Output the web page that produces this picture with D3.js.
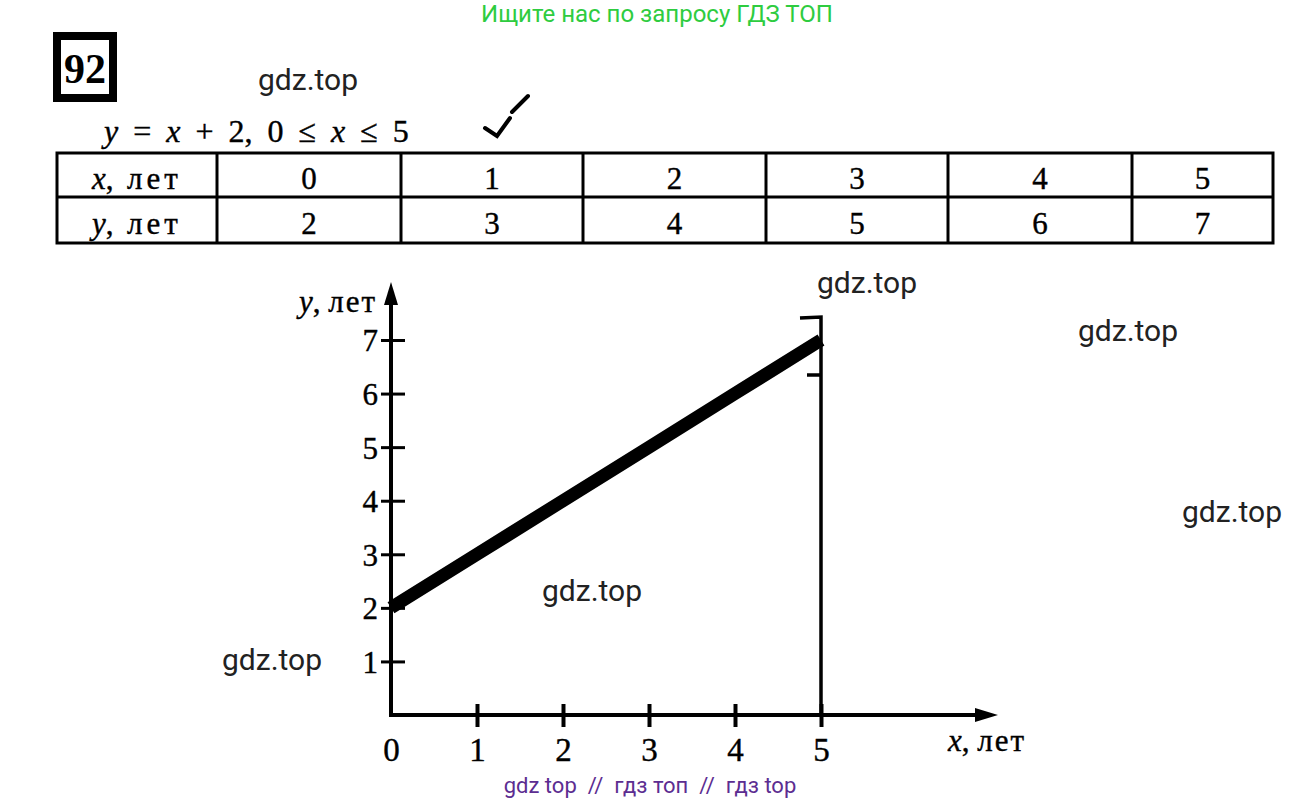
<!DOCTYPE html>
<html>
<head>
<meta charset="utf-8">
<script src="https://cdn.jsdelivr.net/npm/d3@7"></script>
<style>
  body { margin: 0; background: #fff; }
  svg { display: block; }
  .ink { stroke: #000; stroke-width: 0.4px; fill: #000; }
</style>
</head>
<body>
<div class="chart"></div>
<script>
// values of the function y = x + 2 on 0..5
let xValues = [0, 1, 2, 3, 4, 5];
let yValues = [2, 3, 4, 5, 6, 7];
let yTicks = [1, 2, 3, 4, 5, 6, 7];
let rowLabels = ['x', 'y'];
let watermarks = [[258, 90], [817, 293], [1078, 341], [1182, 522], [542, 601], [222, 670]];

let width = 1304, height = 803;
let serif = '"Liberation Serif", "DejaVu Serif", serif';

let svg = d3.select('.chart')
    .append('svg')
    .attr('width', width)
    .attr('height', height);

// green banner on top and purple one at the bottom
svg.append('text')
    .attr('x', 657).attr('y', 22)
    .style('text-anchor', 'middle')
    .style('font-family', 'Roboto, sans-serif')
    .style('font-size', '24px')
    .style('fill', '#2ecc40')
    .text('Ищите нас по запросу ГДЗ ТОП');

svg.append('text')
    .attr('x', 650).attr('y', 793)
    .style('text-anchor', 'middle')
    .style('font-family', 'Roboto, sans-serif')
    .style('font-size', '22px')
    .style('white-space', 'pre')
    .style('fill', '#5c2d91')
    .text('gdz top  //  гдз топ  //  гдз top');

// task number box
svg.append('rect')
    .attr('x', 57).attr('y', 36)
    .attr('width', 56).attr('height', 62)
    .style('fill', '#fff')
    .style('stroke', '#000')
    .style('stroke-width', 8);
svg.append('text')
    .attr('x', 85).attr('y', 83)
    .style('text-anchor', 'middle')
    .style('font-family', serif)
    .style('font-weight', 'bold')
    .style('font-size', '42px')
    .text('92');

// equation
let eq = svg.append('text')
    .attr('class', 'ink')
    .attr('x', 104).attr('y', 142)
    .style('font-family', serif)
    .style('white-space', 'pre')
    .style('word-spacing', '7px')
    .style('font-size', '32px');
eq.append('tspan').style('font-style', 'italic').text('y');
eq.append('tspan').text(' = ');
eq.append('tspan').style('font-style', 'italic').text('x');
eq.append('tspan').text(' + 2, 0 ≤ ');
eq.append('tspan').style('font-style', 'italic').text('x');
eq.append('tspan').text(' ≤ 5');

// check mark scribble
svg.append('path')
    .attr('d', 'M485,128 L497,136 L510,118 M512,112 L528,96')
    .style('fill', 'none')
    .style('stroke', '#000')
    .style('stroke-width', 4)
    .style('stroke-linecap', 'round');

// table of values
let colEdges = [57, 217, 401, 583, 766, 948, 1132, 1273];
let rowEdges = [153, 197, 243];
let table = svg.append('g');
table.append('rect')
    .attr('x', colEdges[0]).attr('y', rowEdges[0])
    .attr('width', colEdges[7] - colEdges[0])
    .attr('height', rowEdges[2] - rowEdges[0])
    .style('fill', 'none').style('stroke', '#000').style('stroke-width', 3);
table.append('line')
    .attr('x1', colEdges[0]).attr('x2', colEdges[7])
    .attr('y1', rowEdges[1]).attr('y2', rowEdges[1])
    .style('stroke', '#000').style('stroke-width', 3);
table.selectAll('.col')
    .data(colEdges.slice(1, 7))
    .enter().append('line')
    .attr('x1', d => d).attr('x2', d => d)
    .attr('y1', rowEdges[0]).attr('y2', rowEdges[2])
    .style('stroke', '#000').style('stroke-width', 3);

[xValues, yValues].forEach((vals, r) => {
    let yy = (rowEdges[r] + rowEdges[r + 1]) / 2 + 14;
    let lab = table.append('text')
        .attr('class', 'ink')
        .attr('x', 92).attr('y', yy)
        .style('font-family', serif)
        .style('font-size', '31px');
    lab.append('tspan').style('font-style', 'italic').text(rowLabels[r]);
    lab.append('tspan').text(',');
    lab.append('tspan').attr('x', 127).style('letter-spacing', '4px').text('лет');
    table.selectAll('.v' + r)
        .data(vals)
        .enter().append('text')
        .attr('class', 'ink')
        .attr('x', (d, i) => (colEdges[i + 1] + colEdges[i + 2]) / 2)
        .attr('y', yy)
        .style('text-anchor', 'middle')
        .style('font-family', serif)
        .style('font-size', '31px')
        .text(d => d);
});

// graph
let xScale = d3.scaleLinear().domain([0, 5]).range([391, 821]);
let yScale = d3.scaleLinear().domain([0, 7]).range([715, 340]);
let g = svg.append('g');

// y axis with ticks crossing the line
let yAxis = d3.axisLeft(yScale).tickValues(yTicks).tickFormat(d3.format('d')).tickSize(0).tickPadding(13);
let yg = g.append('g')
    .attr('transform', `translate(${xScale(0)},0)`)
    .call(yAxis);
yg.select('.domain').remove();
yg.selectAll('.tick line')
    .attr('x1', -10).attr('x2', 14)
    .style('stroke', '#000').style('stroke-width', 3);
yg.selectAll('.tick text')
    .attr('class', 'ink')
    .style('font-family', serif)
    .style('font-size', '31px')
    .attr('dy', '0.35em');

// x axis
let xAxis = d3.axisBottom(xScale).tickValues(xValues).tickFormat(d3.format('d')).tickSize(0).tickPadding(23);
let xg = g.append('g')
    .attr('transform', `translate(0,${yScale(0)})`)
    .call(xAxis);
xg.select('.domain').remove();
xg.selectAll('.tick line')
    .attr('y1', -11).attr('y2', 12)
    .style('stroke', '#000').style('stroke-width', 4)
    .filter(d => d === 0).remove();
xg.selectAll('.tick text')
    .attr('class', 'ink')
    .style('font-family', serif)
    .style('font-size', '33px');

// axis lines with arrows
g.append('line')
    .attr('x1', xScale(0)).attr('x2', xScale(0))
    .attr('y1', yScale(0) + 2).attr('y2', 300)
    .style('stroke', '#000').style('stroke-width', 4);
g.append('path')
    .attr('d', `M${xScale(0)},282 L${xScale(0) - 7},305 L${xScale(0) + 7},305 Z`)
    .style('fill', '#000');
g.append('line')
    .attr('x1', xScale(0) - 2).attr('x2', 980)
    .attr('y1', yScale(0)).attr('y2', yScale(0))
    .style('stroke', '#000').style('stroke-width', 4);
g.append('path')
    .attr('d', `M998,${yScale(0)} L975,${yScale(0) - 7} L975,${yScale(0) + 7} Z`)
    .style('fill', '#000');

// vertical line at x = 5 with bracket
g.append('path')
    .attr('d', `M${xScale(5) - 21},318 L${xScale(5)},317 L${xScale(5)},${yScale(0)} M${xScale(5)},375 L${xScale(5) - 14},375`)
    .style('fill', 'none')
    .style('stroke', '#000')
    .style('stroke-width', 3.5);

// the graph itself
let line = d3.line().x(d => xScale(d[0])).y(d => yScale(d[1]));
g.append('path')
    .datum(xValues.map((d, i) => [d, yValues[i]]))
    .attr('d', line)
    .style('fill', 'none')
    .style('stroke', '#000')
    .style('stroke-width', 13);

// axis titles
let yt = g.append('text')
    .attr('class', 'ink')
    .attr('x', 377).attr('y', 312)
    .style('text-anchor', 'end')
    .style('font-family', serif)
    .style('white-space', 'pre')
    .style('font-size', '31px');
yt.append('tspan').style('font-style', 'italic').text('y');
yt.append('tspan').text(', ');
yt.append('tspan').style('letter-spacing', '2px').text('лет');

let xt = g.append('text')
    .attr('class', 'ink')
    .attr('x', 948).attr('y', 751)
    .style('font-family', serif)
    .style('white-space', 'pre')
    .style('font-size', '31px');
xt.append('tspan').style('font-style', 'italic').text('x');
xt.append('tspan').text(', ');
xt.append('tspan').style('letter-spacing', '2px').text('лет');

// watermarks
svg.selectAll('.wm')
    .data(watermarks)
    .enter().append('text')
    .attr('x', d => d[0]).attr('y', d => d[1])
    .style('font-family', 'Roboto, sans-serif')
    .style('font-size', '30px')
    .style('fill', '#222')
    .text('gdz.top');
</script>
</body>
</html>
